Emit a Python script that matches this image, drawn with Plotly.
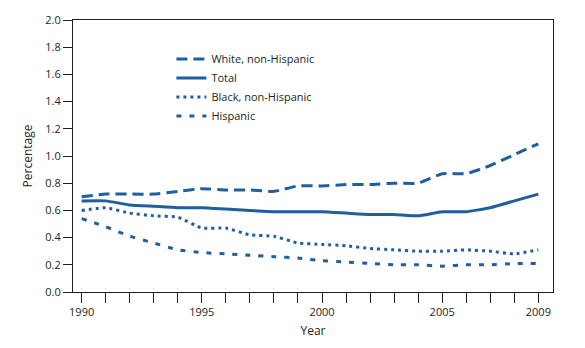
import plotly.graph_objects as go

years = list(range(1990, 2010))
white = [0.70, 0.72, 0.72, 0.72, 0.74, 0.76, 0.75, 0.75, 0.74, 0.78,
         0.78, 0.79, 0.79, 0.80, 0.80, 0.87, 0.87, 0.93, 1.01, 1.09]
total = [0.67, 0.67, 0.64, 0.63, 0.62, 0.62, 0.61, 0.60, 0.59, 0.59,
         0.59, 0.58, 0.57, 0.57, 0.56, 0.59, 0.59, 0.62, 0.67, 0.72]
black = [0.60, 0.62, 0.58, 0.56, 0.55, 0.47, 0.47, 0.42, 0.41, 0.36,
         0.35, 0.34, 0.32, 0.31, 0.30, 0.30, 0.31, 0.30, 0.28, 0.31]
hispanic = [0.54, 0.48, 0.41, 0.36, 0.31, 0.29, 0.28, 0.27, 0.26, 0.25,
            0.23, 0.22, 0.21, 0.20, 0.20, 0.19, 0.20, 0.20, 0.21, 0.21]
tick_labels = {1990: "1990", 1995: "1995", 2000: "2000", 2005: "2005", 2009: "2009"}
y_ticks = [0.0, 0.2, 0.4, 0.6, 0.8, 1.0, 1.2, 1.4, 1.6, 1.8, 2.0]

blue = "#1f5fa0"
ink = "#231f20"
font = "Open Sans, Lato, DejaVu Sans, sans-serif"

series = [
    ("White, non-Hispanic", white, "11px,6px"),
    ("Total", total, "solid"),
    ("Black, non-Hispanic", black, "3px,4px"),
    ("Hispanic", hispanic, "5px,8px"),
]

fig = go.Figure()
for name, vals, dash in series:
    fig.add_trace(go.Scatter(x=years, y=vals, mode="lines", name=name,
                             line=dict(color=blue, width=3, dash=dash, shape="spline", smoothing=0.4)))

fig.update_layout(
    width=585, height=348,
    margin=dict(l=73, r=32, t=20, b=51),
    paper_bgcolor="white", plot_bgcolor="white",
    font=dict(family=font, size=11, color=ink),
    showlegend=True,
    legend=dict(x=0.205, y=0.91, xanchor="left", yanchor="top",
                bgcolor="rgba(0,0,0,0)", font=dict(size=11, color=ink),
                tracegroupgap=0, itemwidth=30),
    xaxis=dict(range=[1989.64, 2009.61], tickvals=years,
               ticktext=[tick_labels.get(y, "") for y in years],
               ticks="outside", ticklen=10, tickcolor=ink, tickwidth=1,
               showline=True, linecolor=ink, linewidth=1, mirror=True,
               showgrid=False, zeroline=False,
               title=dict(text="Year", font=dict(size=12), standoff=8)),
    yaxis=dict(range=[0, 2.0], tickvals=y_ticks,
               ticktext=[f"{v:.1f}" for v in y_ticks],
               ticks="outside", ticklen=9, tickcolor=ink, tickwidth=1,
               showline=True, linecolor=ink, linewidth=1, mirror=True,
               showgrid=False, zeroline=False,
               title=dict(text="Percentage", font=dict(size=12), standoff=10)),
)

fig.write_html("out.html")
